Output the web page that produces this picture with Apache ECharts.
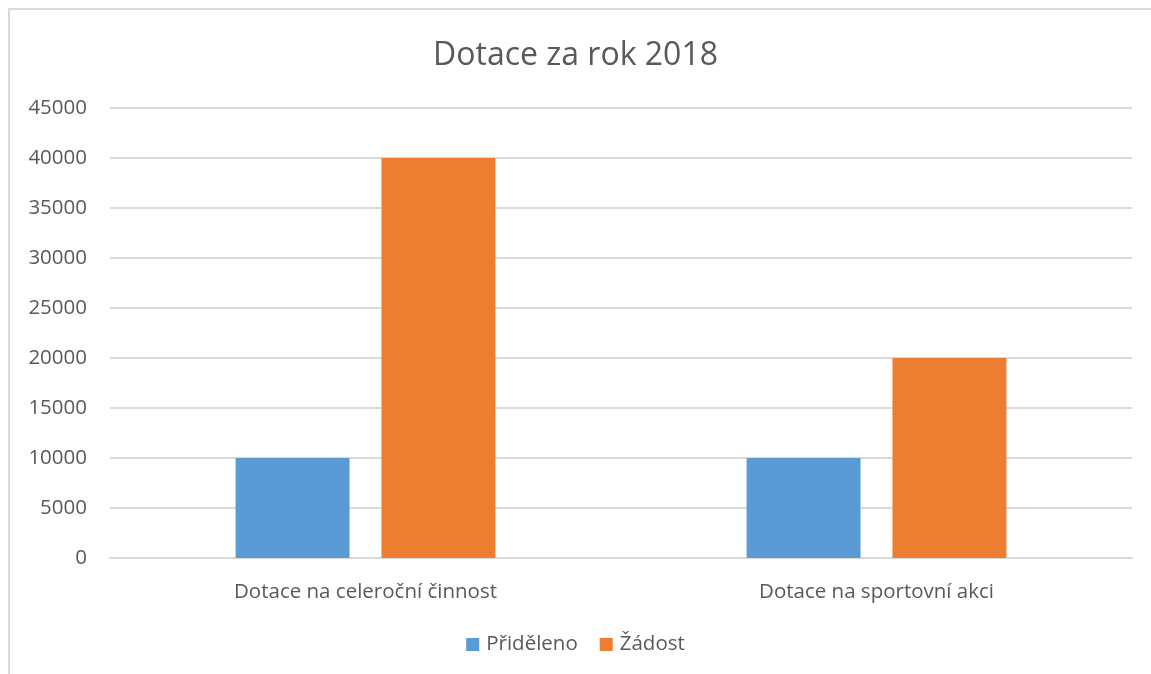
<!DOCTYPE html>
<html>
<head>
<meta charset="utf-8">
<script src="https://cdn.jsdelivr.net/npm/echarts@6/dist/echarts.min.js"></script>
<style>
html,body{margin:0;padding:0;background:#fff;}
#c{width:1151px;height:674px;}
</style>
</head>
<body>
<div id="c"></div>
<script>
const titleText = "Dotace za rok 2018";
const categories = ["Dotace na celeroční činnost", "Dotace na sportovní akci"];
const seriesNames = ["Přiděleno", "Žádost"];
const prideleno = [10000, 10000];
const zadost = [40000, 20000];

const font = "'Open Sans', 'DejaVu Sans', sans-serif";
const chart = echarts.init(document.getElementById('c'));
chart.setOption({
  animation: false,
  backgroundColor: '#ffffff',
  title: {
    text: titleText,
    left: 'center',
    top: 35,
    textStyle: {fontFamily: font, fontSize: 32, fontWeight: 'normal', color: '#595959'}
  },
  graphic: [{
    type: 'rect',
    shape: {x: 9, y: 9, width: 1200, height: 700},
    style: {fill: 'none', stroke: '#d9d9d9', lineWidth: 2},
    silent: true, z: -1
  }],
  legend: {
    data: seriesNames,
    bottom: 14,
    left: 'center',
    itemWidth: 13,
    itemHeight: 13,
    itemGap: 22,
    icon: 'rect',
    textStyle: {fontFamily: font, fontSize: 20.5, color: '#595959', padding: [0,0,0,2]}
  },
  grid: {left: 110, right: 19, top: 108, bottom: 116, containLabel: false},
  xAxis: {
    type: 'category',
    data: categories,
    axisLine: {show: true, lineStyle: {color: '#d9d9d9', width: 2}},
    axisTick: {show: false},
    axisLabel: {fontFamily: font, fontSize: 20.5, color: '#595959', margin: 24}
  },
  yAxis: {
    type: 'value',
    min: 0, max: 45000, interval: 5000,
    axisLine: {show: false},
    axisTick: {show: false},
    splitLine: {lineStyle: {color: '#d9d9d9', width: 2}},
    axisLabel: {fontFamily: font, fontSize: 20.5, color: '#595959', margin: 23,
      formatter: function (v) { return String(v); }}
  },
  series: [
    {name: seriesNames[0], type: 'bar', data: prideleno, barWidth: '22.3%', barGap: '28%',
     itemStyle: {color: '#5b9bd5'}},
    {name: seriesNames[1], type: 'bar', data: zadost, barWidth: '22.3%', barGap: '28%',
     itemStyle: {color: '#ed7d31'}}
  ]
});
</script>
</body>
</html>
